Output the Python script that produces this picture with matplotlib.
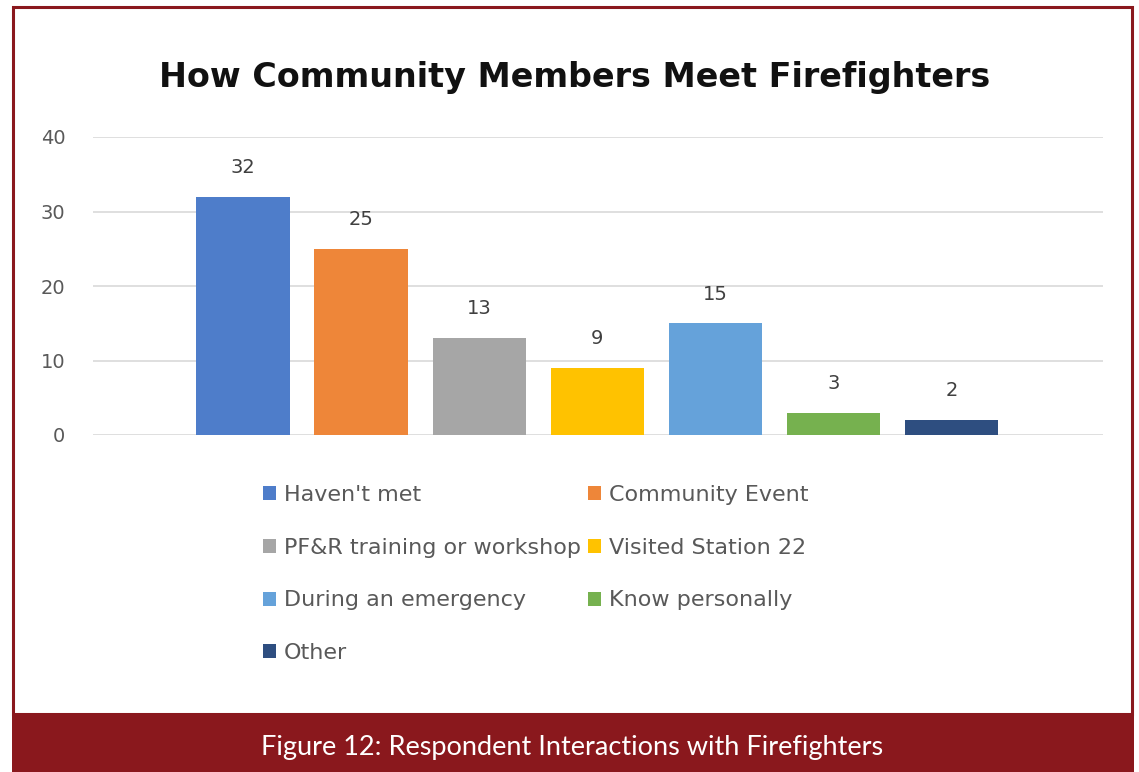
import matplotlib.pyplot as plt
from matplotlib.patches import Rectangle

# データ
categories = ["Haven't met", "Community Event", "PF&R training or workshop",
              "Visited Station 22", "During an emergency", "Know personally", "Other"]
values = [32, 25, 13, 9, 15, 3, 2]
colors = ["#4E7DCA", "#EE8639", "#A6A6A6", "#FFC200", "#65A2DA", "#76B14F", "#2E4E80"]
yticks = [0, 10, 20, 30, 40]

W, H = 1139, 772
fig = plt.figure(figsize=(W / 100, H / 100), dpi=100)
fig.patch.set_facecolor("white")

# 枠と下のキャプション帯
red = "#8A181D"
fig.add_artist(Rectangle((13 / W, 1 - 714 / H), (1132 - 13) / W, (714 - 7) / H,
                         transform=fig.transFigure, fill=False, edgecolor=red, linewidth=2.2))
fig.add_artist(Rectangle((12 / W, 0), (1134 - 12) / W, (H - 714) / H,
                         transform=fig.transFigure, facecolor=red, edgecolor="none"))
fig.text(572 / W, 1 - 748 / H, "Figure 12: Respondent Interactions with Firefighters",
         color="white", fontsize=19.5, family="Lato", fontweight="normal",
         ha="center", va="center", zorder=5)

ax = fig.add_axes([93 / W, 1 - 435 / H, (1103 - 93) / W, (435 - 137) / H])
x = list(range(len(values)))
bars = ax.bar(x, values, width=0.79, color=colors, zorder=3)

for xi, v in zip(x, values):
    ax.annotate(str(v), (xi, v), xytext=(0, 21), textcoords="offset points",
                ha="center", va="center", fontsize=14, color="#404040")

ax.set_ylim(0, 40)
ax.set_xlim(-1.27, 7.28)
ax.set_yticks(yticks)
ax.set_xticks([])
ax.tick_params(axis="y", length=0, pad=20, labelsize=14, labelcolor="#595959")
ax.grid(axis="y", color="#D9D9D9", linewidth=1.2, zorder=0)
for s in ax.spines.values():
    s.set_visible(False)

fig.text(575 / W, 1 - 78 / H, "How Community Members Meet Firefighters",
         fontsize=24, fontweight="bold", ha="center", va="center", color="#111111")

# 凡例（行順に並べる）
order = [0, 2, 4, 6, 1, 3, 5]
leg = fig.legend([bars[i] for i in order], [categories[i] for i in order],
                 ncol=2, loc="upper left", bbox_to_anchor=(252 / W, 1 - 474 / H),
                 frameon=False, fontsize=16, handlelength=0.6, handleheight=0.6,
                 handletextpad=0.35, columnspacing=0.3, labelspacing=1.47, borderpad=0)
for t in leg.get_texts():
    t.set_color("#595959")

plt.savefig("out.png", dpi=100)
